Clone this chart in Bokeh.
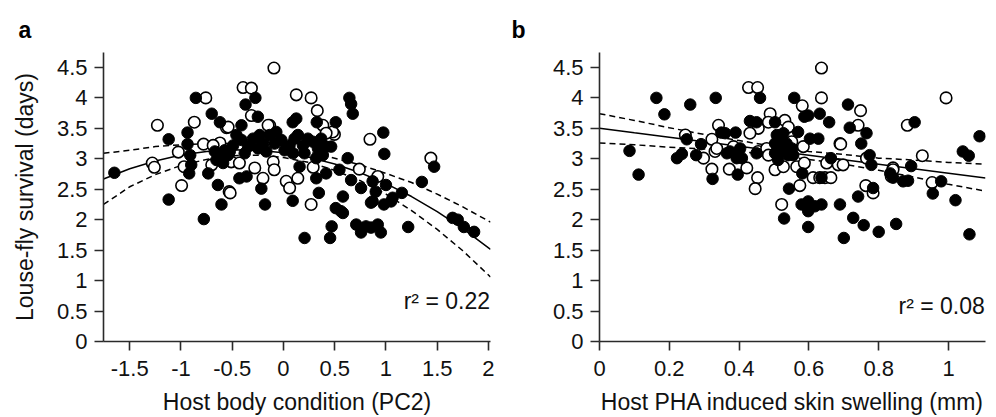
from bokeh.plotting import figure
from bokeh.layouts import row
from bokeh.models import Range1d, FixedTicker, NumeralTickFormatter, Label
from bokeh.embed import file_html
from bokeh.resources import INLINE

FONT = "Liberation Sans"

# ---------------- Panel a data: host body condition (PC2) ----------------
a_filled_x = [-1.65, -1.12, -1.12, -0.855, -0.936, -0.936, -0.91, -0.90, -0.92, -0.70, -0.62, -0.734, -0.64, -0.605, -0.777,
              -0.67, -0.62, -0.573, -0.654, -0.589, -0.54,
              -0.274, -0.37, 0.643, 0.66, 0.676, -0.25, 0.125, 0.09, 0.325, 0.51, -0.41,
              -0.491, -0.41, -0.459, -0.345, -0.297, -0.248, -0.20, -0.167, -0.135, -0.087, -0.021, 0.011, 0.059, 0.108,
              0.141, 0.19, 0.238, 0.287, 0.336, 0.368, 0.384, 0.416, 0.465, -0.524, -0.378, -0.07, -0.232, 0.205, 0.319, 0.092,
              -0.43, -0.36, -0.216, -0.18, 0.09, 0.157, 0.32, 0.345, 0.416, 0.51, 0.56, 0.58, 0.47, 0.206, 0.455, 0.546, 0.627,
              0.974, 0.984, 1.47, 1.35, 0.757, 0.87, 0.90, 1.0, 0.87, 0.98, 1.065, 1.155, 0.71, 0.757, 0.854, 0.92, 0.95,
              1.217, 1.65, 1.70, 1.76, 1.86, 0.58, 0.805, 0.854, 1.05, 0.66]
a_filled_y = [2.77, 3.32, 2.33, 4.0, 3.43, 3.24, 3.06, 2.90, 2.76, 3.74, 3.60, 2.76, 2.57, 2.25, 2.01,
              3.12, 3.06, 3.14, 2.98, 2.93, 3.06,
              4.0, 3.89, 4.0, 3.90, 3.74, 3.69, 3.66, 3.60, 3.60, 3.60, 3.55,
              3.22, 3.31, 3.39, 3.20, 3.33, 3.17, 3.25, 3.12, 3.39, 3.25, 3.31, 3.14, 3.22, 3.33,
              3.39, 3.22, 3.33, 3.28, 3.17, 3.33, 3.06, 3.20, 3.20, 3.12, 3.09, 3.44, 3.39, 3.09, 3.01, 3.09,
              2.68, 2.71, 2.51, 2.25, 2.31, 2.87, 2.68, 2.44, 2.76, 2.19, 2.14, 2.38, 1.89, 1.70, 1.70, 2.82, 3.01,
              3.43, 3.08, 2.87, 2.62, 2.52, 2.63, 2.46, 2.57, 2.30, 2.25, 2.36, 2.44, 1.92, 1.79, 1.87, 1.92, 1.79,
              1.88, 2.03, 2.0, 1.88, 1.80, 2.11, 1.89, 2.28, 2.30, 2.65]
a_open_x = [-1.23, -1.28, -1.26, -1.026, -0.994, -0.758, -0.87, -0.97, -0.78, -0.556, -0.62, -0.53, -0.70, -0.686,
            -0.093, -0.394, -0.313, 0.125, 0.27, 0.33, 0.497, 0.48, -0.135,
            -0.51, -0.43, -0.28, -0.20, -0.10, -0.09, 0.027, 0.06, 0.14, 0.29, -0.52, 0.27,
            -0.54, -0.2, -0.15, 0.384, -0.313, 0.416, 0.844, 1.438, 0.74, 0.92]
a_open_y = [3.55, 2.93, 2.86, 3.11, 2.56, 4.0, 3.60, 2.87, 3.24, 3.51, 3.26, 2.46, 2.90, 3.22,
            4.49, 4.17, 4.16, 4.05, 4.0, 3.79, 3.40, 3.44, 3.55,
            2.95, 2.93, 2.85, 2.68, 2.95, 2.82, 2.63, 2.52, 2.68, 2.86, 2.44, 2.25,
            3.52, 3.33, 3.55, 3.55, 3.71, 3.42, 3.32, 3.01, 2.83, 2.71]
a_line_x = [-1.756, -1.5, -1.25, -1.0, -0.75, -0.5, -0.25, 0.0, 0.25, 0.5, 0.75, 1.0, 1.25, 1.5, 1.75, 2.02]
a_fit_y = [2.668, 2.836, 2.965, 3.062, 3.121, 3.148, 3.140, 3.099, 3.023, 2.914, 2.770, 2.592, 2.380, 2.134, 1.853, 1.512]
a_upper_y = [3.09, 3.14, 3.20, 3.23, 3.25, 3.25, 3.23, 3.18, 3.11, 3.01, 2.90, 2.76, 2.61, 2.42, 2.21, 1.96]
a_lower_y = [2.25, 2.54, 2.74, 2.89, 2.99, 3.05, 3.06, 3.02, 2.94, 2.81, 2.64, 2.42, 2.15, 1.84, 1.49, 1.06]
a_x_ticks = [-1.5, -1, -0.5, 0, 0.5, 1, 1.5, 2]

# ---------------- Panel b data: PHA induced skin swelling ----------------
b_filled_x = [0.163, 0.26, 0.333, 0.186, 0.086, 0.112, 0.25, 0.236, 0.222, 0.277, 0.291, 0.349, 0.324, 0.39, 0.396,
              0.365, 0.374, 0.408, 0.45, 0.46, 0.558, 0.712, 0.587, 0.598, 0.631, 0.658, 0.717, 0.431, 0.503, 0.36,
              0.508, 0.527, 0.517, 0.536, 0.551, 0.522, 0.503, 0.541, 0.512, 0.555, 0.503,
              0.569, 0.603, 0.627, 0.403, 0.45, 0.393, 0.581, 0.636, 0.663, 0.543, 0.579, 0.598, 0.617, 0.636, 0.598,
              0.529, 0.598, 0.689, 0.70, 0.727, 0.765, 0.75, 0.774, 0.779, 0.784, 0.741, 0.757, 0.80, 0.85, 0.833,
              0.893, 0.87, 0.884, 0.903, 0.979, 0.955, 1.02, 1.089, 1.041, 1.058, 1.06, 0.841]
b_filled_y = [4.0, 3.89, 4.0, 3.73, 3.13, 2.74, 3.32, 3.08, 3.01, 3.06, 3.24, 3.43, 2.67, 3.43, 2.74,
              3.09, 3.12, 3.01, 3.60, 4.0, 4.0, 3.89, 3.69, 3.71, 3.74, 3.60, 3.51, 3.62, 3.60, 3.42,
              3.39, 3.42, 3.28, 3.25, 3.17, 3.12, 3.09, 3.06, 2.98, 3.06, 3.25,
              3.44, 3.33, 3.33, 3.17, 3.09, 3.01, 2.76, 2.69, 3.01, 2.51, 2.25, 2.30, 2.22, 2.25, 2.14,
              2.02, 1.88, 2.25, 1.70, 2.03, 3.42, 3.25, 3.06, 2.90, 2.52, 2.38, 1.91, 1.80, 1.93, 2.76,
              2.88, 2.63, 2.64, 3.60, 2.63, 2.43, 2.32, 3.37, 3.12, 3.05, 1.76, 2.69]
b_open_x = [0.246, 0.298, 0.322, 0.341, 0.331, 0.336, 0.322, 0.372, 0.384, 0.427, 0.453,
            0.636, 0.636, 0.581, 0.489, 0.531, 0.541, 0.484, 0.455, 0.431, 0.584, 0.551, 0.689, 0.422, 0.455,
            0.479, 0.484, 0.453, 0.446, 0.503, 0.527, 0.565, 0.587, 0.612, 0.631, 0.646, 0.663, 0.651, 0.684,
            0.698, 0.574, 0.522, 0.748, 0.741, 0.691, 0.763, 0.784, 0.841, 0.836, 0.925, 0.882, 0.953, 0.993,
            0.765, 0.841]
b_open_y = [3.39, 3.01, 3.32, 3.55, 3.12, 3.17, 2.83, 2.83, 3.20, 4.17, 4.17,
            4.49, 4.0, 3.87, 3.74, 3.63, 3.52, 3.60, 3.50, 3.42, 3.20, 3.28, 3.25, 2.85, 3.12,
            3.17, 3.06, 2.69, 2.51, 2.82, 2.87, 2.87, 2.93, 2.69, 2.69, 2.69, 2.69, 2.93, 2.90,
            2.90, 2.56, 2.25, 3.79, 3.55, 3.24, 2.56, 2.44, 2.85, 2.71, 3.05, 3.55, 2.61, 4.0,
            3.01, 2.82]
b_line_x = [0.0, 0.1, 0.2, 0.3, 0.4, 0.5, 0.6, 0.7, 0.8, 0.9, 1.0, 1.106]
b_fit_y = [3.50, 3.426, 3.353, 3.279, 3.206, 3.132, 3.058, 2.985, 2.911, 2.838, 2.764, 2.686]
b_upper_y = [3.74, 3.63, 3.51, 3.40, 3.30, 3.20, 3.12, 3.07, 3.01, 2.98, 2.94, 2.91]
b_lower_y = [3.26, 3.23, 3.19, 3.16, 3.12, 3.06, 2.99, 2.91, 2.81, 2.70, 2.58, 2.47]
b_x_ticks = [0, 0.2, 0.4, 0.6, 0.8, 1]

y_ticks = [0, 0.5, 1, 1.5, 2, 2.5, 3, 3.5, 4, 4.5]

AXIS_COLOR = "#2a2a2a"
TICK_FS = "22px"
LABEL_FS = "23px"


def make_panel(letter, x_range, x_ticks, xlabel, ylabel, fx, fy, ox, oy, lx, fit, up, lo, r2, r2_x, r2_y,
               border_left, border_right, title_offset):
    p = figure(width=498, height=417, output_backend="svg", toolbar_location=None,
               x_range=x_range, y_range=Range1d(0, 4.745),
               min_border_left=border_left, min_border_right=border_right,
               min_border_top=52, min_border_bottom=74, title=letter)
    p.grid.visible = False
    p.outline_line_color = None
    p.background_fill_color = "white"
    p.border_fill_color = "white"

    p.title.align = "left"
    p.title.offset = title_offset
    p.title.text_font = FONT
    p.title.text_font_size = "23px"
    p.title.text_font_style = "bold"
    p.title.text_color = "black"
    p.title.standoff = 19

    for ax in (p.xaxis[0], p.yaxis[0]):
        ax.axis_line_color = AXIS_COLOR
        ax.axis_line_width = 1.6
        ax.major_tick_line_color = AXIS_COLOR
        ax.major_tick_line_width = 1.6
        ax.major_tick_out = 9
        ax.major_tick_in = 0
        ax.minor_tick_line_color = None
        ax.major_label_text_font = FONT
        ax.major_label_text_font_size = TICK_FS
        ax.major_label_text_color = "#111111"
        ax.axis_label_text_font = FONT
        ax.axis_label_text_font_size = LABEL_FS
        ax.axis_label_text_font_style = "normal"
        ax.axis_label_text_color = "#111111"
        ax.formatter = NumeralTickFormatter(format="0.[0]")

    p.xaxis.ticker = FixedTicker(ticks=x_ticks)
    p.yaxis.ticker = FixedTicker(ticks=y_ticks)
    p.xaxis.axis_label = xlabel
    p.yaxis.axis_label = ylabel
    p.xaxis.major_label_standoff = 10
    p.xaxis.axis_label_standoff = 10
    p.yaxis.major_label_standoff = 7
    p.yaxis.axis_label_standoff = 16

    # regression line and confidence band
    p.line(lx, up, line_color="black", line_width=1.5, line_dash="6 4")
    p.line(lx, lo, line_color="black", line_width=1.5, line_dash="6 4")
    p.line(lx, fit, line_color="black", line_width=1.5)

    p.scatter(ox, oy, size=11.5, marker="circle", fill_color="white", line_color="black", line_width=1.6)
    p.scatter(fx, fy, size=11.5, marker="circle", fill_color="black", line_color="black", line_width=1)

    p.add_layout(Label(x=r2_x, y=r2_y, text=r2, text_align="right", text_baseline="alphabetic",
                       text_font=FONT, text_font_size="23px", text_color="#111111"))
    return p


pa = make_panel("a", Range1d(-1.756, 2.02), a_x_ticks, "Host body condition (PC2)", "Louse-fly survival (days)",
                a_filled_x, a_filled_y, a_open_x, a_open_y, a_line_x, a_fit_y, a_upper_y, a_lower_y,
                "r\u00b2 = 0.22", 2.015, 0.66, 103, 8, -85)
pb = make_panel("b", Range1d(0, 1.106), b_x_ticks, "Host PHA induced skin swelling (mm)", "",
                b_filled_x, b_filled_y, b_open_x, b_open_y, b_line_x, b_fit_y, b_upper_y, b_lower_y,
                "r\u00b2 = 0.08", 1.104, 0.58, 101, 11, -88)

layout = row(pa, pb)
open("out.html", "w").write(file_html(layout, INLINE))
